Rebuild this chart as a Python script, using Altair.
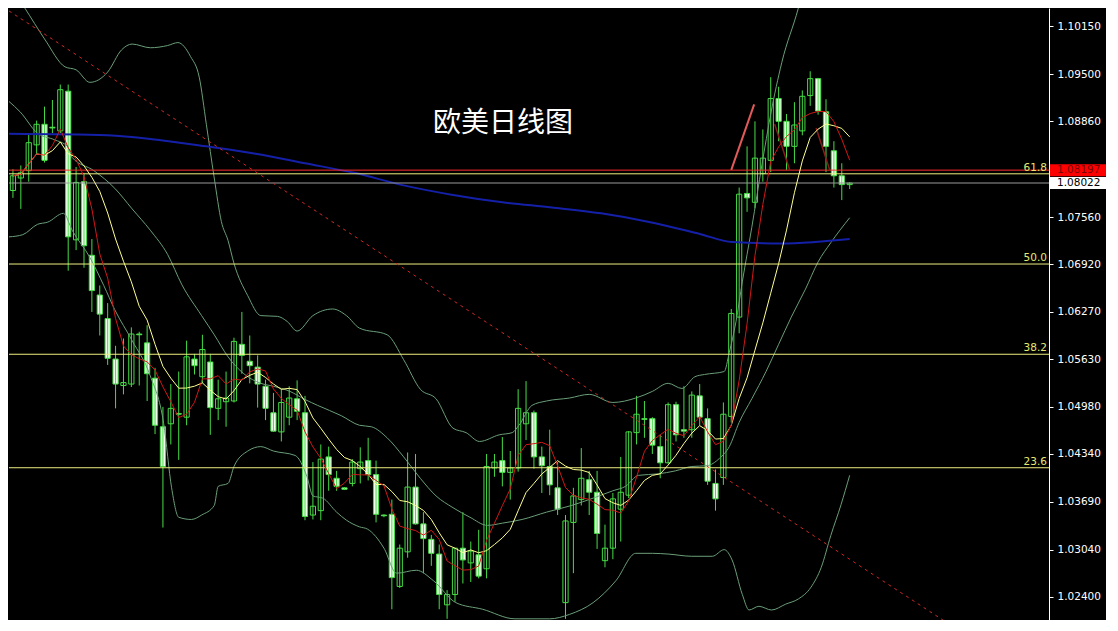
import altair as alt
import pandas as pd

# ---------------- data ----------------
idx = list(range(107))
open_ = [1.0792,1.0809,1.0819,1.0854,1.0882,1.0878,1.0873,1.0927,1.0725,1.0804,
 1.0704,1.0650,1.0618,1.0563,1.0527,1.0529,1.0597,1.0585,1.0537,1.0471,
 1.0475,1.0489,1.0484,1.0563,1.0539,1.0559,1.0496,1.0505,1.0506,1.0583,
 1.0560,1.0552,1.0526,1.0490,1.0464,1.0484,1.0509,1.0490,1.0351,1.0357,
 1.0430,1.0401,1.0388,1.0394,1.0414,1.0425,1.0406,1.0351,1.0352,1.0254,
 1.0301,1.0389,1.0339,1.0318,1.0298,1.0229,1.0243,1.0306,1.0286,1.0297,
 1.0278,1.0415,1.0425,1.0409,1.0415,1.0475,1.0490,1.0430,1.0417,1.0388,
 1.0232,1.0341,1.0372,1.0399,1.0382,1.0289,1.0306,1.0359,1.0378,1.0463,
 1.0482,1.0482,1.0444,1.0422,1.0501,1.0467,1.0467,1.0513,1.0482,1.0394,
 1.0402,1.0485,1.0620,1.0788,1.0776,1.0815,1.0833,1.0917,1.0886,1.0852,
 1.0873,1.0921,1.0944,1.0899,1.0846,1.0812,1.0800]
high = [1.0821,1.0826,1.0870,1.0887,1.0906,1.0915,1.0936,1.0936,1.0824,1.0815,
 1.0726,1.0663,1.0639,1.0581,1.0591,1.0606,1.0600,1.0609,1.0551,1.0498,
 1.0529,1.0546,1.0588,1.0570,1.0596,1.0570,1.0535,1.0546,1.0592,1.0627,
 1.0595,1.0568,1.0535,1.0517,1.0522,1.0526,1.0534,1.0513,1.0423,1.0447,
 1.0444,1.0411,1.0389,1.0427,1.0443,1.0456,1.0425,1.0352,1.0372,1.0311,
 1.0436,1.0434,1.0355,1.0324,1.0311,1.0249,1.0306,1.0355,1.0315,1.0331,
 1.0434,1.0434,1.0457,1.0438,1.0522,1.0533,1.0493,1.0444,1.0467,1.0423,
 1.0351,1.0388,1.0442,1.0411,1.0411,1.0338,1.0381,1.0430,1.0465,1.0513,
 1.0506,1.0484,1.0460,1.0504,1.0505,1.0526,1.0519,1.0529,1.0496,1.0413,
 1.0504,1.0631,1.0796,1.0852,1.0886,1.0875,1.0946,1.0933,1.0896,1.0912,
 1.0928,1.0954,1.0945,1.0916,1.0859,1.0829,1.0803]
low = [1.0782,1.0767,1.0804,1.0842,1.0830,1.0870,1.0870,1.0683,1.0711,1.0687,
 1.0627,1.0595,1.0555,1.0496,1.0515,1.0525,1.0527,1.0506,1.0461,1.0334,
 1.0447,1.0426,1.0473,1.0542,1.0530,1.0460,1.0480,1.0471,1.0504,1.0543,
 1.0530,1.0497,1.0480,1.0464,1.0451,1.0473,1.0480,1.0344,1.0345,1.0344,
 1.0384,1.0384,1.0385,1.0390,1.0394,1.0398,1.0341,1.0348,1.0223,1.0252,
 1.0293,1.0338,1.0272,1.0282,1.0223,1.0210,1.0233,1.0258,1.0260,1.0265,
 1.0265,1.0403,1.0390,1.0372,1.0410,1.0453,1.0414,1.0381,1.0378,1.0351,
 1.0210,1.0272,1.0364,1.0351,1.0305,1.0280,1.0291,1.0315,1.0374,1.0447,
 1.0456,1.0434,1.0401,1.0421,1.0451,1.0456,1.0456,1.0473,1.0392,1.0357,
 1.0392,1.0477,1.0598,1.0763,1.0768,1.0804,1.0817,1.0859,1.0820,1.0829,
 1.0867,1.0907,1.0895,1.0817,1.0796,1.0779,1.0794]
close = [1.0812,1.0816,1.0857,1.0882,1.0833,1.0877,1.0929,1.0729,1.0803,1.0717,
 1.0656,1.0624,1.0564,1.0529,1.0531,1.0597,1.0596,1.0543,1.0473,1.0417,
 1.0496,1.0488,1.0566,1.0554,1.0576,1.0497,1.0509,1.0510,1.0587,1.0568,
 1.0554,1.0529,1.0496,1.0465,1.0504,1.0510,1.0492,1.0349,1.0363,1.0427,
 1.0406,1.0390,1.0386,1.0423,1.0423,1.0406,1.0352,1.0350,1.0266,1.0306,
 1.0389,1.0339,1.0319,1.0299,1.0243,1.0243,1.0306,1.0290,1.0302,1.0268,
 1.0417,1.0423,1.0409,1.0415,1.0496,1.0490,1.0430,1.0418,1.0392,1.0359,
 1.0343,1.0377,1.0401,1.0382,1.0326,1.0306,1.0373,1.0382,1.0464,1.0488,
 1.0481,1.0446,1.0422,1.0501,1.0460,1.0465,1.0514,1.0484,1.0397,1.0373,
 1.0488,1.0625,1.0787,1.0782,1.0836,1.0836,1.0917,1.0886,1.0852,1.0881,
 1.0920,1.0944,1.0900,1.0852,1.0812,1.0800,1.0802]

# Bollinger bands (traced)
ub_idx = [-0.5,1.5,4.0,6.6,8.0,9.75,12.0,13.75,15.1,17.4,19.6,20.9,22.5,23.6,24.5,25.5,26.4,27.25,28.0,29.75,
 31.4,33.5,34.75,36.0,38.0,40.5,42.25,43.9,47.4,49.5,51.6,53.6,55.75,57.4,59.1,61.6,63.25,64.1,65.75,67.6,
 70.5,73.0,76.0,78.9,81.0,83.0,84.75,86.4,87.6,90.1,90.75,91.6,92.4,93.6,94.9,96.0,97.4,99.5,100.75]
ub_val = [1.1073,1.1040,1.0998,1.0960,1.0956,1.0939,1.0953,1.0983,1.0991,1.0986,1.0989,1.0993,1.0974,1.0946,1.0882,
 1.0809,1.0750,1.0724,1.0693,1.0649,1.0622,1.0621,1.0614,1.0601,1.0622,1.0631,1.0622,1.0605,1.0596,1.0562,
 1.0522,1.0509,1.0469,1.0463,1.0451,1.0460,1.0463,1.0473,1.0500,1.0506,1.0510,1.0515,1.0504,1.0510,1.0519,
 1.0530,1.0523,1.0539,1.0542,1.0546,1.0572,1.0614,1.0668,1.0742,1.0828,1.0896,1.0966,1.1040,1.1093]
mb_idx = [-0.5,0.9,3.1,5.25,6.9,7.5,10.25,12.9,15.1,17.4,19.6,21.4,23.9,25.5,27.25,29.25,31.4,33.0,35.1,37.0,
 38.6,41.6,43.9,45.4,47.4,49.5,51.6,53.6,55.75,57.9,60.1,62.0,64.5,67.6,70.75,73.5,76.0,77.6,79.25,81.75,
 83.9,86.0,87.9,89.5,90.75,92.0,93.6,95.4,97.0,98.6,100.4,102.0,103.6,106.0]
mb_val = [1.0913,1.0899,1.0870,1.0861,1.0852,1.0837,1.0819,1.0795,1.0767,1.0738,1.0705,1.0664,1.0622,1.0596,1.0566,
 1.0543,1.0530,1.0526,1.0519,1.0508,1.0500,1.0486,1.0473,1.0471,1.0456,1.0430,1.0401,1.0377,1.0361,1.0348,
 1.0337,1.0340,1.0345,1.0355,1.0364,1.0374,1.0384,1.0390,1.0405,1.0407,1.0411,1.0417,1.0418,1.0428,1.0444,
 1.0477,1.0509,1.0546,1.0583,1.0620,1.0658,1.0695,1.0721,1.0755]
lb_idx = [-0.5,1.25,3.1,4.4,6.4,7.5,9.75,11.5,12.9,15.1,17.4,19.1,20.1,21.0,22.6,23.9,25.5,26.0,27.25,28.0,
 29.75,31.4,33.0,35.75,37.25,38.0,39.25,41.0,42.25,43.9,44.9,47.0,48.6,51.1,53.25,56.1,59.5,63.6,68.0,70.5,
 73.5,76.4,78.9,81.0,83.0,86.0,88.6,90.1,91.1,92.4,93.25,94.5,96.1,97.9,99.5,101.1,102.4,103.6,104.9,106.0]
lb_val = [1.0729,1.0732,1.0746,1.0749,1.0761,1.0738,1.0701,1.0663,1.0630,1.0588,1.0540,1.0475,1.0388,1.0348,1.0345,
 1.0351,1.0364,1.0390,1.0394,1.0417,1.0438,1.0444,1.0438,1.0432,1.0403,1.0377,1.0374,1.0355,1.0344,1.0335,
 1.0332,1.0306,1.0272,1.0276,1.0262,1.0232,1.0223,1.0210,1.0210,1.0216,1.0232,1.0262,1.0299,1.0299,1.0298,
 1.0295,1.0295,1.0304,1.0290,1.0243,1.0222,1.0227,1.0222,1.0230,1.0237,1.0253,1.0280,1.0323,1.0365,1.0405]

# long moving average (blue, traced)
ma_idx = [-0.5,12.0,18.25,24.5,30.75,37.0,43.25,49.5,55.75,62.0,68.25,74.5,80.75,87.0,91.1,97.4,101.6,106.0]
ma_val = [1.0869,1.0867,1.0861,1.0852,1.0842,1.0829,1.0816,1.0799,1.0786,1.0776,1.0769,1.0761,1.0749,1.0733,
 1.0722,1.0720,1.0722,1.0726]

# drawn objects
trend_idx = [-0.5, 118.0]
trend_val = [1.1036, 1.0207]
salmon_idx = [91.0, 93.9]
salmon_val = [1.0820, 1.0909]
dark1_idx = [96.5, 98.4]
dark1_val = [1.0882, 1.0820]
dark2_idx = [101.75, 103.5]
dark2_val = [1.0877, 1.0819]

fib_labels = ["61.8", "50.0", "38.2", "23.6"]
fib_prices = [1.08147, 1.06921, 1.05695, 1.04153]
red_level = 1.08197
bid_level = 1.08022
tick_values = [1.10150, 1.09500, 1.08860, 1.07560, 1.06920, 1.06270, 1.05630,
               1.04980, 1.04340, 1.03690, 1.03040, 1.02400]
title_text = "欧美日线图"

# ---------------- chart ----------------
W, H = 1040, 612
GREEN = "#46dc46"
xs = alt.Scale(domain=[-0.5, 131.25], nice=False, zero=False)
ys = alt.Scale(domain=[1.02084, 1.10400], nice=False, zero=False)
yax = alt.Axis(orient="right", values=tick_values, format=".5f", title=None, grid=False,
               labelColor="#ffffff", tickColor="#ffffff", domainColor="#ffffff",
               tickSize=4, labelPadding=4, labelFont="DejaVu Sans", labelFontSize=10.5,
               labelOverlap=False, labelFlush=False)

candles = pd.DataFrame({"idx": idx, "open": open_, "high": high, "low": low, "close": close})

def X(field="idx"):
    return alt.X(f"{field}:Q", scale=xs, axis=None)

def Y(field="price"):
    return alt.Y(f"{field}:Q", scale=ys, axis=yax)

fib_df = pd.DataFrame({"label": fib_labels, "price": fib_prices})
fib_rules = alt.Chart(fib_df).mark_rule(color="#eeee80", strokeWidth=1).encode(y=Y())
fib_text = alt.Chart(fib_df).mark_text(align="right", baseline="bottom", dy=-1, color="#e8e870",
                                       font="DejaVu Sans", fontSize=10.5).encode(
    x=alt.value(W - 2), y=Y(), text="label:N")

lvl_df = pd.DataFrame({"price": [red_level, bid_level], "kind": ["red", "bid"]})
red_rule = alt.Chart(lvl_df).transform_filter("datum.kind == 'red'").mark_rule(
    color="#ff2a2a", strokeWidth=1).encode(y=Y())
bid_rule = alt.Chart(lvl_df).transform_filter("datum.kind == 'bid'").mark_rule(
    color="#9a9a9a", strokeWidth=1).encode(y=Y())

wicks = alt.Chart(candles).mark_rule(color=GREEN, strokeWidth=1).encode(
    x=X(), y=Y("low"), y2="high:Q")
bodies = alt.Chart(candles).transform_calculate(
    x0="datum.idx - 0.33", x1="datum.idx + 0.33").mark_rect(
    stroke=GREEN, strokeWidth=1).encode(
    x=X("x0"), x2="x1:Q", y=Y("open"), y2="close:Q",
    fill=alt.condition("datum.close < datum.open", alt.value("#eefeea"), alt.value("#000000")))

band_df = pd.concat([
    pd.DataFrame({"idx": ub_idx, "price": ub_val, "band": "upper"}),
    pd.DataFrame({"idx": mb_idx, "price": mb_val, "band": "middle"}),
    pd.DataFrame({"idx": lb_idx, "price": lb_val, "band": "lower"}),
])
bands = alt.Chart(band_df).mark_line(color="#6a9e78", strokeWidth=1, interpolate="monotone",
                                     clip=True).encode(x=X(), y=Y(), detail="band:N")

ma_df = pd.DataFrame({"idx": ma_idx, "price": ma_val})
blue = alt.Chart(ma_df).mark_line(color="#1420a8", strokeWidth=2, interpolate="monotone",
                                  clip=True).encode(x=X(), y=Y())

trend_df = pd.DataFrame({"idx": trend_idx, "price": trend_val})
trend = alt.Chart(trend_df).mark_line(color="#d02828", strokeWidth=1, strokeDash=[3, 4],
                                      clip=True).encode(x=X(), y=Y())

salmon = alt.Chart(pd.DataFrame({"idx": salmon_idx, "price": salmon_val})).mark_line(
    color="#e25a5a", strokeWidth=2).encode(x=X(), y=Y())
dark_df = pd.concat([
    pd.DataFrame({"idx": dark1_idx, "price": dark1_val, "seg": "a"}),
    pd.DataFrame({"idx": dark2_idx, "price": dark2_val, "seg": "b"}),
])
dark = alt.Chart(dark_df).mark_line(color="#8c1c1c", strokeWidth=1.5).encode(
    x=X(), y=Y(), detail="seg:N")

ma5 = alt.Chart(candles).transform_window(
    ma5="mean(close)", frame=[-4, 0], sort=[alt.SortField("idx")]).mark_line(
    color="#d01818", strokeWidth=1).encode(x=X(), y=Y("ma5"))
ma10 = alt.Chart(candles).transform_window(
    ma10="mean(close)", frame=[-9, 0], sort=[alt.SortField("idx")]).mark_line(
    color="#ffff90", strokeWidth=1).encode(x=X(), y=Y("ma10"))

box_df = pd.DataFrame({"price": [bid_level, red_level],
                       "label": ["1.08022", "1.08197"],
                       "bg": ["#ffffff", "#ff0000"],
                       "fg": ["#000000", "#7a0000"]})
boxes = alt.Chart(box_df).mark_rect(yOffset=-6, y2Offset=6).encode(
    x=alt.value(W + 1), x2=alt.value(W + 57), y=Y(), y2="price:Q",
    fill=alt.Color("bg:N", scale=None))
box_text = alt.Chart(box_df).mark_text(align="left", baseline="middle", font="DejaVu Sans",
                                       fontSize=10.5).encode(
    x=alt.value(W + 8), y=Y(), text="label:N", color=alt.Color("fg:N", scale=None))

title = alt.Chart(pd.DataFrame({"t": [title_text]})).mark_text(
    font="Noto Sans CJK SC", fontSize=28, color="#ffffff", align="center",
    baseline="middle").encode(x=alt.value(494), y=alt.value(116), text="t:N")

chart = alt.layer(
    bodies, wicks, bands, blue, fib_rules, red_rule, bid_rule, trend, salmon, dark,
    ma10, ma5, fib_text, boxes, box_text, title
).properties(width=W, height=H, padding=0, background="#000000").configure_view(
    strokeWidth=0, fill="#000000")

chart.save("out.html", embed_options={"renderer": "svg", "actions": False})
